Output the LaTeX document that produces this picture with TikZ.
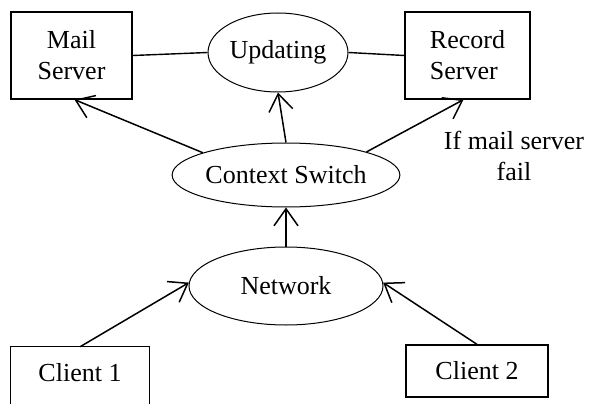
\documentclass[tikz,border=0pt]{standalone}
\usepackage{fontspec}
\setmainfont{Liberation Serif}
\usetikzlibrary{shapes.geometric,arrows.meta,calc}
\begin{document}
\begin{tikzpicture}[x=1pt,y=-1pt,
  every node/.style={font=\fontsize{26}{31}\selectfont},
  box/.style={draw, line width=1.3pt, rectangle, inner sep=0pt, align=center},
  oval/.style={draw, line width=1pt, ellipse, inner sep=0pt},
  conn/.style={line width=1.4pt},
  arr/.style={line width=1.5pt, -{Straight Barb[length=17pt,width=24pt,line width=1.5pt]}}]
\clip (0,0) rectangle (589,404);
\useasboundingbox (0,0) rectangle (589,404);
\node[box, minimum width=121, minimum height=87] (ms) at (71.5,55.5) {Mail\\Server};
\node[box, minimum width=125, minimum height=87, align=left] (rs) at (467.5,55.5) {Record\\Server};
\node[oval, minimum width=140, minimum height=79] (up) at (278,52.5) {Updating};
\node[oval, minimum width=222, minimum height=64] (cs) at (286,175) {Context Switch};
\node[oval, minimum width=194, minimum height=78] (nw) at (286,286) {Network};
\node[align=center] (note) at (514,156) {If mail server\\fail};
\node[inner sep=0pt, minimum width=138, minimum height=52] (c1) at (80,373) {Client 1};
\draw[line width=1.3pt] (c1.north west) rectangle ([yshift=-30pt]c1.south east);
\node[box, minimum width=142, minimum height=52] (c2) at (477,371) {Client 2};
\draw[conn] (ms.east) -- (up.west);
\draw[conn] (up.east) -- (rs.west);
\draw[arr] (cs.north) -- (up.south);
\draw[arr] (cs.165) -- ([xshift=3pt]ms.south);
\draw[arr] (cs.16) -- ([xshift=-4pt]rs.south);
\draw[arr] (nw.north) -- (cs.south);
\draw[arr] (c1.north) -- (nw.178);
\draw[arr] (c2.north) -- (nw.2);
\end{tikzpicture}
\end{document}
